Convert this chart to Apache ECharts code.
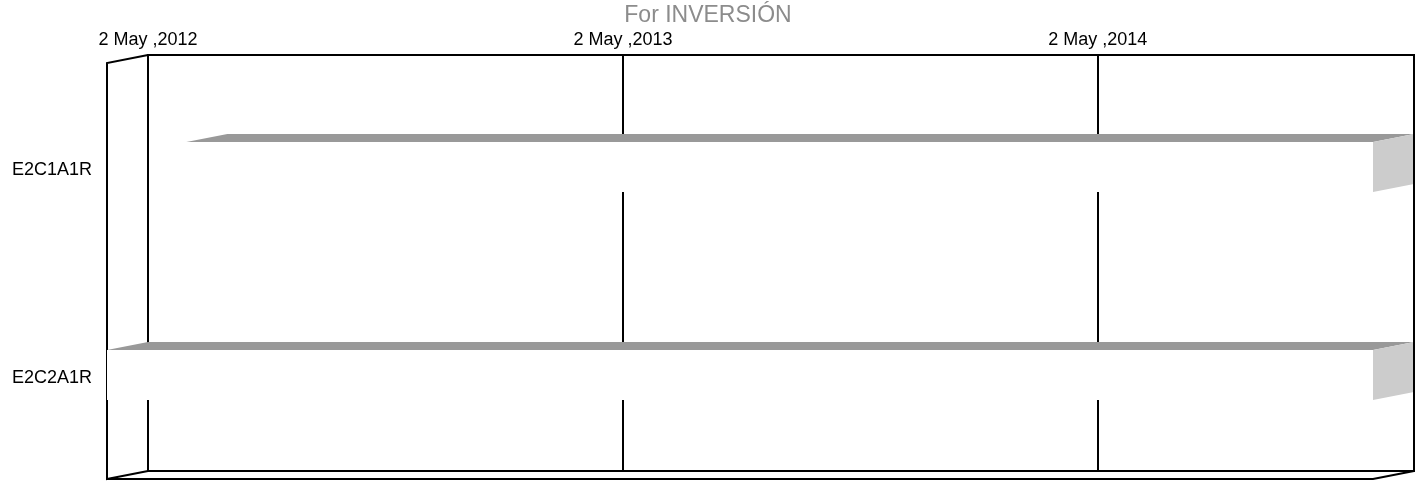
<!DOCTYPE html>
<html>
<head>
<meta charset="utf-8">
<title>For INVERSIÓN</title>
<script src="https://cdn.jsdelivr.net/npm/echarts@6/dist/echarts.min.js"></script>
<style>
    html, body { margin: 0; padding: 0; background: #fff; }
    #chart { width: 1416px; height: 482px; }
</style>
</head>
<body>
<div id="chart"></div>
<script>
// data
const categories = ["E2C1A1R", "E2C2A1R"];
const taskStart = ["2012-07-02", "2012-05-02"];
const taskEnd = ["2014-12-31", "2014-12-31"];
const axisStart = "2012-05-02";
const axisEnd = "2014-12-31";
const tickDates = ["2012-05-02", "2013-05-02", "2014-05-02"];
const tickLabels = ["2 May ,2012", "2 May ,2013", "2 May ,2014"];

// days since axis start
const toDay = s => Math.round((Date.parse(s) - Date.parse(axisStart)) / 86400000);
const tickDays = tickDates.map(toDay);

// 3d depth shift of the front plane
const DX = -41, DY = 8;
const FONT = "'Liberation Sans', Arial, sans-serif";

let chart = echarts.init(document.getElementById("chart"));

let options = {
    animation: false,
    title: {
        text: "For INVERSIÓN",
        left: "center",
        top: -1,
        textStyle: {
            fontFamily: FONT,
            fontSize: 23,
            fontWeight: "normal",
            color: "#8c8c8c",
        },
    },
    grid: {
        left: 148,
        right: 2,
        top: 55,
        bottom: 11,
        show: true,
        borderColor: "#000",
        borderWidth: 2,
        backgroundColor: "#fff",
    },
    xAxis: {
        type: "value",
        position: "top",
        min: 0,
        max: toDay(axisEnd),
        interval: 365,
        axisLine: { show: false },
        axisTick: { show: false },
        axisLabel: {
            margin: 6,
            fontFamily: FONT,
            fontSize: 18,
            color: "#000",
            showMaxLabel: false,
            formatter: v => {
                let i = tickDays.indexOf(v);
                return i >= 0 ? tickLabels[i] : "";
            },
        },
        splitLine: {
            show: true,
            lineStyle: { color: "#000", width: 2 },
        },
    },
    yAxis: {
        type: "category",
        inverse: true,
        data: categories,
        axisLine: { show: false },
        axisTick: { show: false },
        splitLine: { show: false },
        axisLabel: {
            margin: 56,
            fontFamily: FONT,
            fontSize: 18,
            color: "#000",
            verticalAlign: "top",
            lineHeight: 22,
        },
    },
    graphic: [
        // left side panel
        {
            type: "polyline", z: 1,
            shape: { points: [[148, 55], [107, 63], [107, 479], [148, 471]] },
            style: { stroke: "#000", lineWidth: 2, fill: null },
        },
        // floor
        {
            type: "polyline", z: 1,
            shape: { points: [[107, 479], [1373, 479], [1414, 471]] },
            style: { stroke: "#000", lineWidth: 2, fill: null },
        },
        // right back edge stays on top of the bars
        {
            type: "line", z: 100,
            shape: { x1: 1414, y1: 54, x2: 1414, y2: 472 },
            style: { stroke: "#000", lineWidth: 2 },
        },
    ],
    series: [
        {
            type: "custom",
            clip: false,
            z: 10,
            encode: { x: [1, 2], y: 0 },
            data: categories.map((c, i) => [i, toDay(taskStart[i]), toDay(taskEnd[i])]),
            renderItem: (params, api) => {
                let a = api.coord([api.value(1), api.value(0)]);
                let b = api.coord([api.value(2), api.value(0)]);
                let h = api.size([0, 1])[1] * 0.24;
                let top = a[1] - h / 2, bot = a[1] + h / 2;
                let x0 = a[0], x1 = b[0];
                return {
                    type: "group",
                    children: [
                        {
                            type: "polygon",
                            shape: { points: [[x0 + DX, top + DY], [x0, top], [x1, top], [x1 + DX, top + DY]] },
                            style: { fill: "#999999" },
                        },
                        {
                            type: "polygon",
                            shape: { points: [[x1 + DX, top + DY], [x1, top], [x1, bot], [x1 + DX, bot + DY]] },
                            style: { fill: "#cccccc" },
                        },
                        {
                            type: "rect",
                            shape: { x: x0 + DX, y: top + DY, width: x1 - x0, height: h },
                            style: { fill: "#fff" },
                        },
                    ],
                };
            },
        },
    ],
};

chart.setOption(options);
window.addEventListener("resize", () => chart.resize());
</script>
</body>
</html>
